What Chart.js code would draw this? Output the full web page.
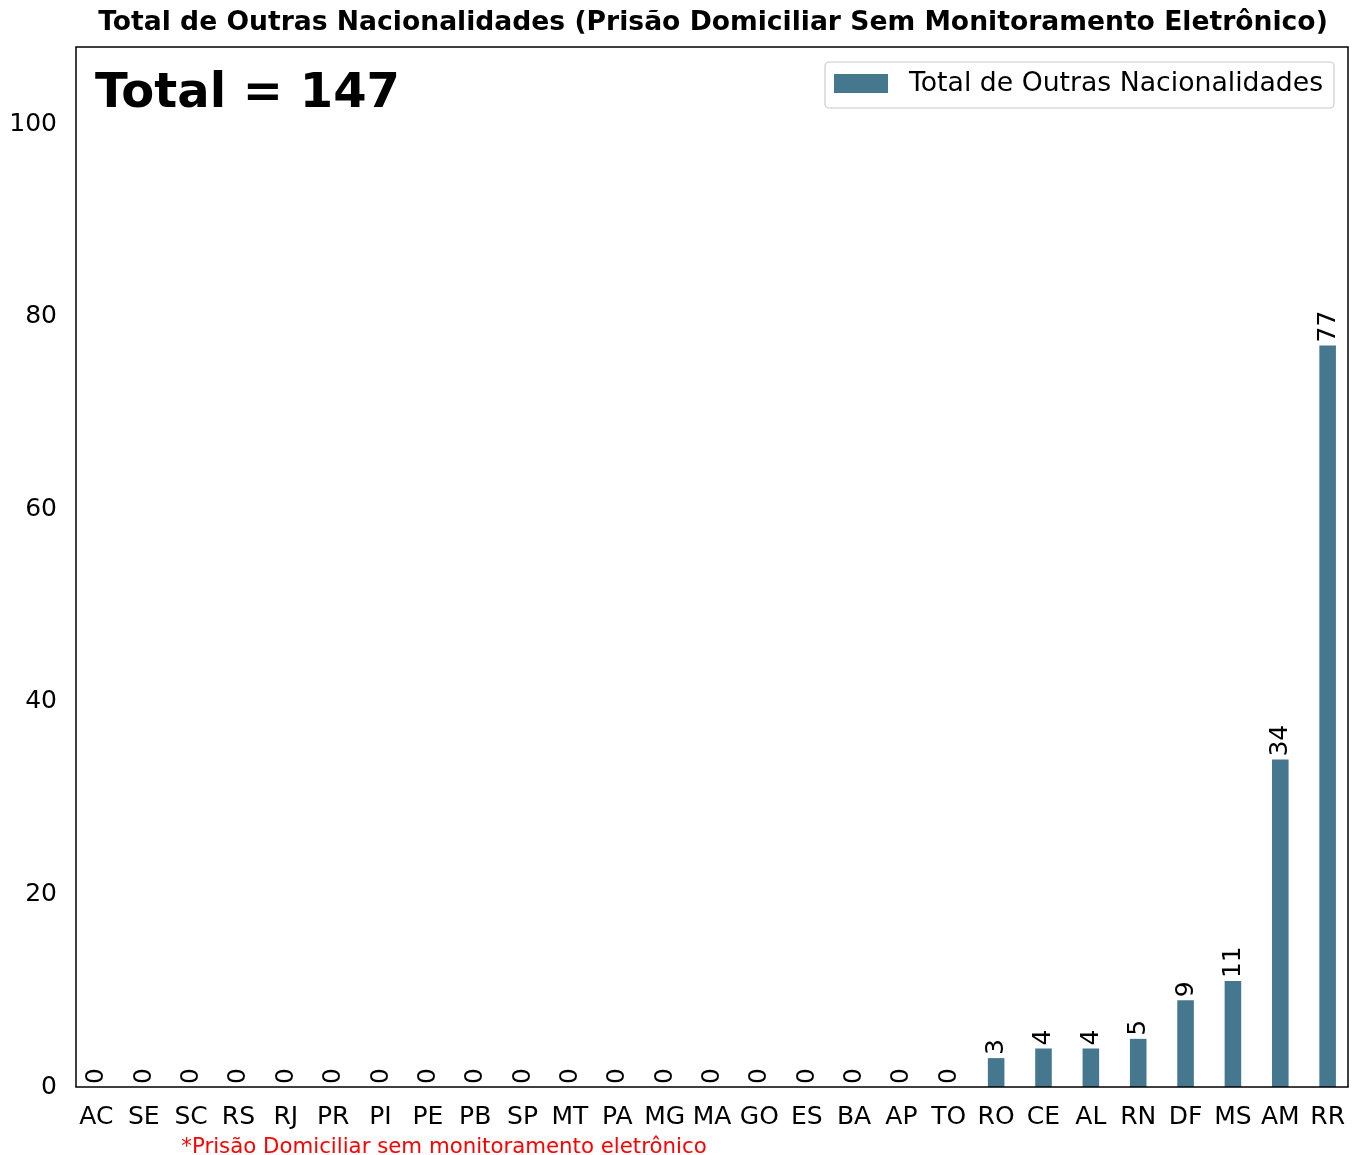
<!DOCTYPE html>
<html>
<head>
<meta charset="utf-8">
<script src="https://cdn.jsdelivr.net/npm/chart.js@4.4.1/dist/chart.umd.min.js"></script>
<style>
  html, body { margin: 0; padding: 0; background: #fff; }
  #wrap { width: 1357px; height: 1155px; }
</style>
</head>
<body>
<div id="wrap"><canvas id="chart"></canvas></div>
<script>
const estados = ["AC","SE","SC","RS","RJ","PR","PI","PE","PB","SP","MT","PA","MG","MA","GO","ES","BA","AP","TO","RO","CE","AL","RN","DF","MS","AM","RR"];
const totais = [0,0,0,0,0,0,0,0,0,0,0,0,0,0,0,0,0,0,0,3,4,4,5,9,11,34,77];
const yTicks = [0, 20, 40, 60, 80, 100];
const titulo = "Total de Outras Nacionalidades (Prisão Domiciliar Sem Monitoramento Eletrônico)";
const serie = "Total de Outras Nacionalidades";
const nota = "*Prisão Domiciliar sem monitoramento eletrônico";

const FONT = "'DejaVu Sans', sans-serif";
const COR = "#45778f";
const total = totais.reduce((a, b) => a + b, 0);

const extras = {
  id: "extras",
  afterDatasetsDraw(chart) {
    const ctx = chart.ctx;
    const area = chart.chartArea;
    const meta = chart.getDatasetMeta(0);

    // moldura
    ctx.save();
    ctx.strokeStyle = "#000";
    ctx.lineWidth = 1.5;
    ctx.strokeRect(area.left, area.top, area.right - area.left, area.bottom - area.top);

    // rótulos das barras
    ctx.fillStyle = "#000";
    ctx.font = "25px " + FONT;
    meta.data.forEach((bar, i) => {
      ctx.save();
      ctx.translate(bar.x + 7, bar.y - 3);
      ctx.rotate(-Math.PI / 2);
      ctx.textAlign = "left";
      ctx.textBaseline = "alphabetic";
      ctx.fillText(String(totais[i]), 0, 0);
      ctx.restore();
    });

    // título
    ctx.font = "bold 26.6px " + FONT;
    ctx.textAlign = "center";
    ctx.textBaseline = "middle";
    ctx.fillText(titulo, 713, 23);

    // total
    ctx.font = "bold 48px " + FONT;
    ctx.textAlign = "left";
    ctx.textBaseline = "alphabetic";
    ctx.fillText("Total = " + total, 95, 107);

    // legenda
    const lx = 825, ly = 62, lw = 509, lh = 46;
    ctx.fillStyle = "rgba(255,255,255,0.8)";
    ctx.strokeStyle = "#cccccc";
    ctx.lineWidth = 1.2;
    ctx.beginPath();
    ctx.roundRect(lx, ly, lw, lh, 4);
    ctx.fill();
    ctx.stroke();
    ctx.fillStyle = COR;
    ctx.fillRect(834, 74, 54, 19);
    ctx.fillStyle = "#000";
    ctx.font = "26.7px " + FONT;
    ctx.textBaseline = "middle";
    ctx.fillText(serie, 909, 84);

    // nota
    ctx.fillStyle = "#ff0000";
    ctx.font = "21.3px " + FONT;
    ctx.textAlign = "center";
    ctx.fillText(nota, 444, 1147);
    ctx.restore();
  }
};

new Chart(document.getElementById("chart"), {
  type: "bar",
  data: {
    datasets: [{
      label: serie,
      data: totais.map((v, i) => ({ x: i, y: v })),
      backgroundColor: COR,
      barPercentage: 0.35,
      categoryPercentage: 1.0
    }]
  },
  options: {
    responsive: true,
    maintainAspectRatio: false,
    animation: false,
    layout: { padding: { top: 47, right: 9, left: 0, bottom: 0 } },
    plugins: { legend: { display: false }, title: { display: false }, tooltip: { enabled: false } },
    scales: {
      x: {
        type: "linear",
        min: -0.43,
        max: 26.43,
        offset: false,
        grid: { display: false, drawTicks: true, tickLength: 7, tickColor: "#000" },
        border: { display: false },
        ticks: {
          color: "#000", font: { family: FONT, size: 25 }, padding: 8, maxRotation: 0, autoSkip: false,
          callback: v => estados[v]
        },
        afterBuildTicks(scale) { scale.ticks = estados.map((_, i) => ({ value: i })); },
        afterFit(scale) { scale.height = 68; }
      },
      y: {
        min: 0,
        max: 108,
        grid: { display: false, drawTicks: true, tickLength: 7, tickColor: "#000" },
        border: { display: false },
        ticks: { color: "#000", font: { family: FONT, size: 25 }, padding: 12 },
        afterBuildTicks(scale) { scale.ticks = yTicks.map(v => ({ value: v })); },
        afterFit(scale) { scale.width = 76; }
      }
    }
  },
  plugins: [extras]
});
</script>
</body>
</html>
